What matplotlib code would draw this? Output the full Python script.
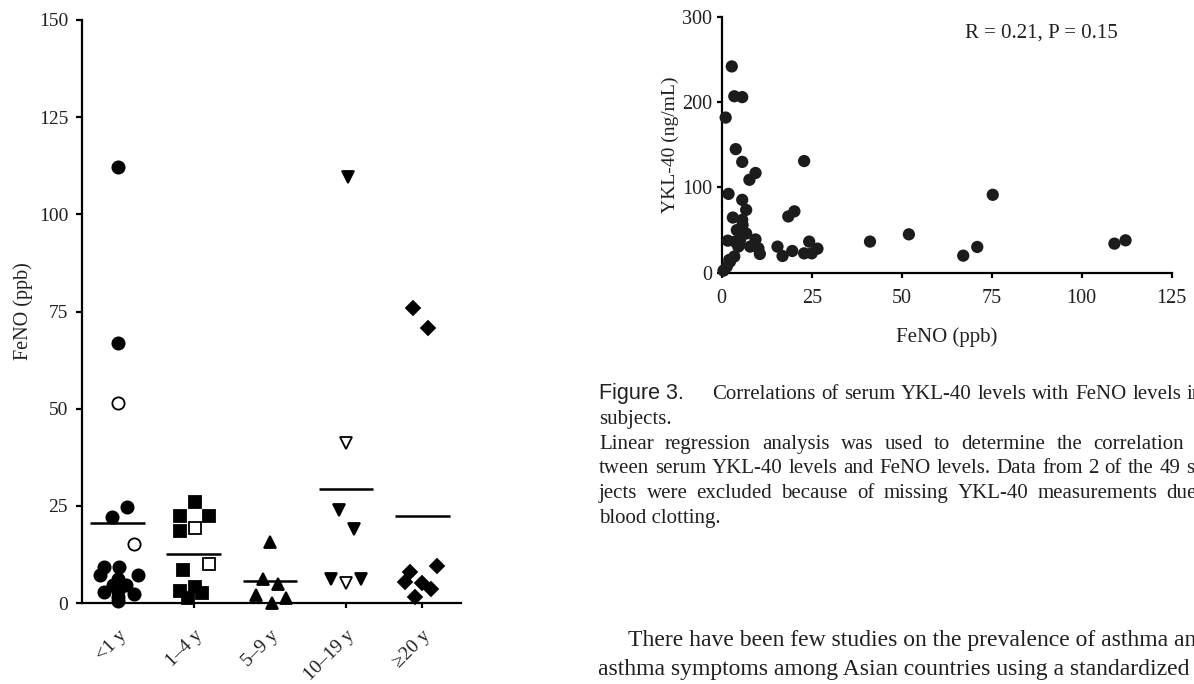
import matplotlib
matplotlib.use("Agg")
import matplotlib.pyplot as plt
import matplotlib.transforms as mtransforms

# ---------------- data: left panel (FeNO by asthma duration) ----------------
groups = ["<1 y", "1–4 y", "5–9 y", "10–19 y", "≥20 y"]
markers = ["o", "s", "^", "v", "D"]

g0_vals = [112.2, 66.8, 51.5, 24.8, 22.2, 15.1, 9.3, 9.2, 7.2, 7.2, 6.2, 4.6, 4.6, 2.8, 2.3, 3.0, 1.5, 0.5]
g0_jit  = [0.0, 0.0, 0.0, 0.12, -0.08, 0.21, -0.18, 0.01, -0.24, 0.27, 0.0, -0.06, 0.11, -0.18, 0.21, 0.0, 0.0, 0.0]
g0_open = [False, False, True, False, False, True, False, False, False, False, False, False, False, False, False, False, False, False]

g1_vals = [25.9, 22.5, 22.5, 18.6, 19.4, 10.0, 8.5, 3.1, 4.2, 2.5, 1.2]
g1_jit  = [0.01, -0.18, 0.20, -0.18, 0.01, 0.20, -0.14, -0.18, 0.01, 0.11, -0.08]
g1_open = [False, False, False, False, True, True, False, False, False, False, False]

g2_vals = [15.8, 6.1, 4.9, 2.1, 1.2, 0.0]
g2_jit  = [0.0, -0.09, 0.11, -0.18, 0.21, 0.02]
g2_open = [False] * 6

g3_vals = [109.7, 41.1, 23.9, 19.0, 6.3, 5.1, 6.1]
g3_jit  = [0.02, 0.0, -0.09, 0.10, -0.20, 0.0, 0.20]
g3_open = [False, True, False, False, False, True, False]

g4_vals = [75.8, 70.8, 9.5, 7.9, 5.5, 5.1, 3.6, 1.6]
g4_jit  = [-0.12, 0.08, 0.19, -0.16, -0.23, 0.0, 0.11, -0.09]
g4_open = [False] * 8

group_means = [20.5, 12.7, 5.7, 29.3, 22.5]
left_yticks = [0, 25, 50, 75, 100, 125, 150]

# ---------------- data: right panel (YKL-40 vs FeNO) ----------------
feno = [2.8, 3.5, 5.7, 1.1, 3.9, 5.7, 9.4, 7.7, 22.9, 1.9, 5.7, 6.8, 3.1, 5.7, 5.8,
        4.2, 6.8, 1.7, 4.9, 3.7, 9.4, 7.9, 10.2, 10.6, 3.5, 2.3, 1.4, 15.5, 16.9, 18.5,
        20.2, 19.6, 22.9, 25.0, 24.3, 26.6, 41.2, 52.0, 67.1, 71.0, 75.3, 109.1, 112.2,
        5.1, 2.1, 4.6, 0.5]
ykl = [242, 207, 206, 182, 145, 130, 117, 109, 131, 92.5, 85.5, 73.7, 64.7, 62, 56,
       50, 46, 37.6, 32.5, 36.5, 39, 30.6, 28.6, 22, 19, 13, 7, 30.6, 19.6, 66,
       72, 25.5, 22.7, 22.7, 36.5, 28.2, 36.5, 45, 20, 30.2, 91.4, 34.1, 38,
       38.4, 15, 30.6, 2.4]
right_xticks = [0, 25, 50, 75, 100, 125]
right_yticks = [0, 100, 200, 300]

caption_title = "Figure 3."
caption_lines = [
    "Correlations of serum YKL-40 levels with FeNO levels in",
    "subjects.",
    "Linear regression analysis was used to determine the correlation be-",
    "tween serum YKL-40 levels and FeNO levels. Data from 2 of the 49 sub-",
    "jects were excluded because of missing YKL-40 measurements due to",
    "blood clotting.",
]
body_lines = [
    "There have been few studies on the prevalence of asthma and",
    "asthma symptoms among Asian countries using a standardized qu",
]

# ---------------- figure ----------------
W, H = 1194, 684
fig = plt.figure(figsize=(W / 100, H / 100), dpi=100)
renderer = fig.canvas.get_renderer()
ink = "#231f20"
serif = ["Liberation Serif", "DejaVu Serif"]
sans = ["Liberation Sans", "DejaVu Sans"]

def fx(px):
    return px / W

def fy(py):
    return 1 - py / H

def text_line(line, left, base, size, right=None, family=serif):
    """Place a line of text; if right is given, justify the words between left and right."""
    if right is None:
        fig.text(fx(left), fy(base), line, family=family, fontsize=size, color=ink, va="baseline")
        return
    words = line.split(" ")
    objs = [fig.text(0, fy(base), w, family=family, fontsize=size, color=ink, va="baseline")
            for w in words]
    widths = [o.get_window_extent(renderer).width for o in objs]
    gap = (right - left - sum(widths)) / max(len(words) - 1, 1)
    x = left
    for o, wd in zip(objs, widths):
        o.set_x(fx(x))
        x += wd + gap

# left panel
axL = fig.add_axes([fx(82), fy(603), fx(461) - fx(82), fy(20) - fy(603)])
sizes = {"o": 8.8, "s": 8.0, "^": 9.0, "v": 9.0, "D": 7.4}
all_groups = [(g0_vals, g0_jit, g0_open), (g1_vals, g1_jit, g1_open),
              (g2_vals, g2_jit, g2_open), (g3_vals, g3_jit, g3_open),
              (g4_vals, g4_jit, g4_open)]
for i, (vals, jit, opn) in enumerate(all_groups):
    m = markers[i]
    for v, j, o in zip(vals, jit, opn):
        axL.plot(i + j, v, marker=m, ms=sizes[m], mfc="white" if o else "black",
                 mec="black", mew=1.3, ls="none", clip_on=False, zorder=3)
    axL.plot([i - 0.36, i + 0.36], [group_means[i]] * 2, color="black", lw=1.8,
             solid_capstyle="butt", zorder=2)

axL.set_xlim(-0.47, 4.51)
axL.set_ylim(0, 150)
axL.set_yticks(left_yticks)
axL.set_xticks(range(len(groups)))
axL.set_xticklabels(groups, rotation=45, ha="right", va="top", rotation_mode="anchor",
                    family=serif, fontsize=14, color=ink)
shift = mtransforms.ScaledTranslation(-7 / 100, -2 / 100, fig.dpi_scale_trans)
for lab in axL.get_xticklabels():
    lab.set_transform(lab.get_transform() + shift)
axL.set_yticklabels([str(t) for t in left_yticks], family=serif, fontsize=14, color=ink)
axL.set_ylabel("FeNO (ppb)", family=serif, fontsize=14.5, color=ink)
axL.yaxis.set_label_coords(-0.13, 0.5)
for s in ["top", "right"]:
    axL.spines[s].set_visible(False)
for s in ["left", "bottom"]:
    axL.spines[s].set_linewidth(1.6)
axL.tick_params(axis="y", direction="out", length=4, width=1.6, pad=6)
axL.tick_params(axis="x", direction="out", length=3.5, width=1.6, pad=14)
axL.set_facecolor("none")

# right panel
axR = fig.add_axes([fx(721.7), fy(272.7), fx(1172) - fx(721.7), fy(17) - fy(272.7)])
axR.scatter(feno, ykl, s=78, color="#1c1c1c", edgecolors="none", clip_on=False, zorder=3)
axR.set_xlim(0, 125.1)
axR.set_ylim(0, 300)
axR.set_xticks(right_xticks)
axR.set_yticks(right_yticks)
axR.set_xticklabels([str(t) for t in right_xticks], family=serif, fontsize=14.5, color=ink)
axR.set_yticklabels([str(t) for t in right_yticks], family=serif, fontsize=14.5, color=ink)
axR.set_xlabel("FeNO (ppb)", family=serif, fontsize=15, color=ink, labelpad=14)
axR.set_ylabel("YKL-40 (ng/mL)", family=serif, fontsize=14, color=ink, labelpad=2)
for s in ["top", "right"]:
    axR.spines[s].set_visible(False)
for s in ["left", "bottom"]:
    axR.spines[s].set_linewidth(1.6)
axR.tick_params(axis="both", direction="out", length=3.5, width=1.6)
axR.tick_params(axis="x", pad=8)
axR.text(0.54, 0.937, "R = 0.21, P = 0.15", transform=axR.transAxes, family=serif,
         fontsize=15, color=ink, va="center", ha="left")
axR.set_facecolor("none")

# caption (justified column, right edge beyond the picture)
cap_size = 15
text_line(caption_title, 599, 399, 15.5, family=sans)
text_line(caption_lines[0], 712, 399, cap_size, right=1203)
text_line(caption_lines[1], 599, 423.8, cap_size)
text_line(caption_lines[2], 599, 448.6, cap_size, right=1222)
text_line(caption_lines[3], 599, 473.4, cap_size, right=1222)
text_line(caption_lines[4], 599, 498.2, cap_size, right=1222)
text_line(caption_lines[5], 599, 523.0, cap_size)

# body text
text_line(body_lines[0], 628, 646, 17)
text_line(body_lines[1], 598, 675, 17)

fig.savefig("out.png", dpi=100)
